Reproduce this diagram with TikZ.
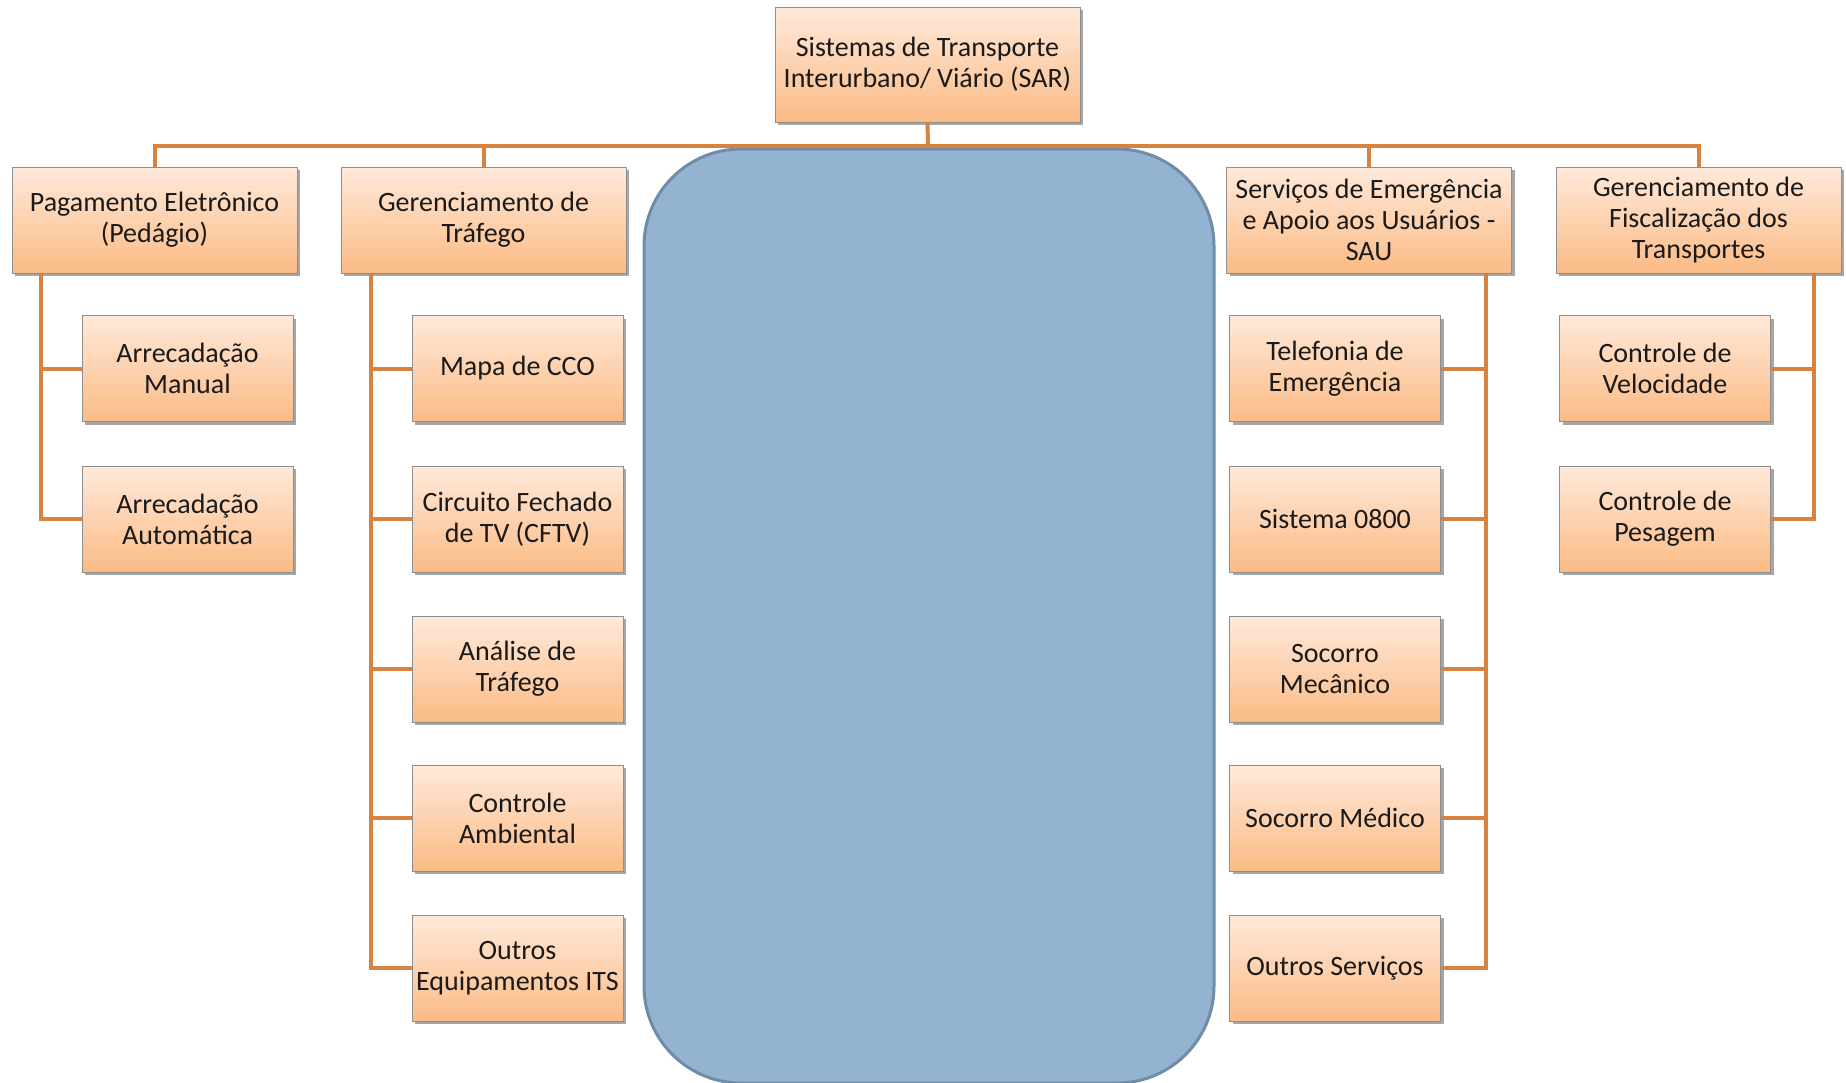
\documentclass[tikz,border=0pt]{standalone}
\usepackage{fontspec}
\setmainfont{Carlito}
\usetikzlibrary{shadows}
\definecolor{lncol}{HTML}{D8823F}
\definecolor{boxtop}{HTML}{FFE9DA}
\definecolor{boxbot}{HTML}{FBBB85}
\definecolor{boxline}{HTML}{8F8F8F}
\definecolor{bluefill}{HTML}{94B3D1}
\definecolor{blueline}{HTML}{6F8CA8}
\definecolor{txtcol}{HTML}{1A1A1A}
\begin{document}
\begin{tikzpicture}[x=1pt,y=-1pt,
  box/.style={draw=boxline, line width=1pt, top color=boxtop, bottom color=boxbot,
    align=center, text=txtcol, font=\fontsize{28}{30.8}\selectfont, inner sep=1pt,
    drop shadow={shadow xshift=3pt, shadow yshift=-3pt, fill=black, opacity=0.35}},
  topbox/.style={box, minimum width=305pt, minimum height=115pt},
  catbox/.style={box, minimum width=285pt, minimum height=106pt},
  leafbox/.style={box, minimum width=211pt, minimum height=106pt},
  conn/.style={draw=lncol, line width=4pt},
]
\useasboundingbox (0,0) rectangle (1846,1082);

% central blank panel
\node[draw=blueline, line width=3pt, fill=bluefill, rounded corners=97pt,
  minimum width=570pt, minimum height=934pt] (panel) at (929,616) {};

% root
\node[topbox] (root) at (927.5,64.5) {Sistemas de Transporte\\Interurbano/ Viário (SAR)};

% categories
\node[catbox] (b1) at (154.5,220) {Pagamento Eletrônico\\(Pedágio)};
\node[catbox] (b2) at (483.5,220) {Gerenciamento de\\Tráfego};
\node[catbox] (b3) at (1369,220) {Serviços de Emergência\\e Apoio aos Usuários -\\SAU};
\node[catbox] (b4) at (1698.5,220) {Gerenciamento de\\Fiscalização dos\\Transportes};

% column 1
\node[leafbox] (c11) at (187.5,368.5) {Arrecadação\\Manual};
\node[leafbox] (c12) at (187.5,519) {Arrecadação\\Automática};

% column 2
\node[leafbox] (c21) at (517.5,368.5) {Mapa de CCO};
\node[leafbox] (c22) at (517.5,519) {Circuito Fechado\\de TV (CFTV)};
\node[leafbox] (c23) at (517.5,669) {Análise de\\Tráfego};
\node[leafbox] (c24) at (517.5,818) {Controle\\Ambiental};
\node[leafbox] (c25) at (517.5,968) {Outros\\Equipamentos ITS};

% column 3
\node[leafbox] (c31) at (1335,368.5) {Telefonia de\\Emergência};
\node[leafbox] (c32) at (1335,519) {Sistema 0800};
\node[leafbox] (c33) at (1335,669) {Socorro\\Mecânico};
\node[leafbox] (c34) at (1335,818) {Socorro Médico};
\node[leafbox] (c35) at (1335,968) {Outros Serviços};

% column 4
\node[leafbox] (c41) at (1665,368.5) {Controle de\\Velocidade};
\node[leafbox] (c42) at (1665,519) {Controle de\\Pesagem};

% bus
\coordinate (bus) at (928,146);
\coordinate (t1) at (41,0);
\coordinate (t2) at (371,0);
\coordinate (t3) at (1486,0);
\coordinate (t4) at (1814,0);

\draw[conn] (root.south) -- (bus);
\draw[conn] (b1.north) |- (bus) -| (b4.north);
\draw[conn] (b2.north) -- (b2.north |- bus);
\draw[conn] (b3.north) -- (b3.north |- bus);

% column 1 connectors
\draw[conn] (t1 |- b1.south) |- (c12.west);
\draw[conn] (t1 |- c11.west) -- (c11.west);

% column 2 connectors
\draw[conn] (t2 |- b2.south) |- (c25.west);
\draw[conn] (t2 |- c21.west) -- (c21.west);
\draw[conn] (t2 |- c22.west) -- (c22.west);
\draw[conn] (t2 |- c23.west) -- (c23.west);
\draw[conn] (t2 |- c24.west) -- (c24.west);

% column 3 connectors
\draw[conn] (t3 |- b3.south) |- (c35.east);
\draw[conn] (t3 |- c31.east) -- (c31.east);
\draw[conn] (t3 |- c32.east) -- (c32.east);
\draw[conn] (t3 |- c33.east) -- (c33.east);
\draw[conn] (t3 |- c34.east) -- (c34.east);

% column 4 connectors
\draw[conn] (t4 |- b4.south) |- (c42.east);
\draw[conn] (t4 |- c41.east) -- (c41.east);
\end{tikzpicture}
\end{document}
